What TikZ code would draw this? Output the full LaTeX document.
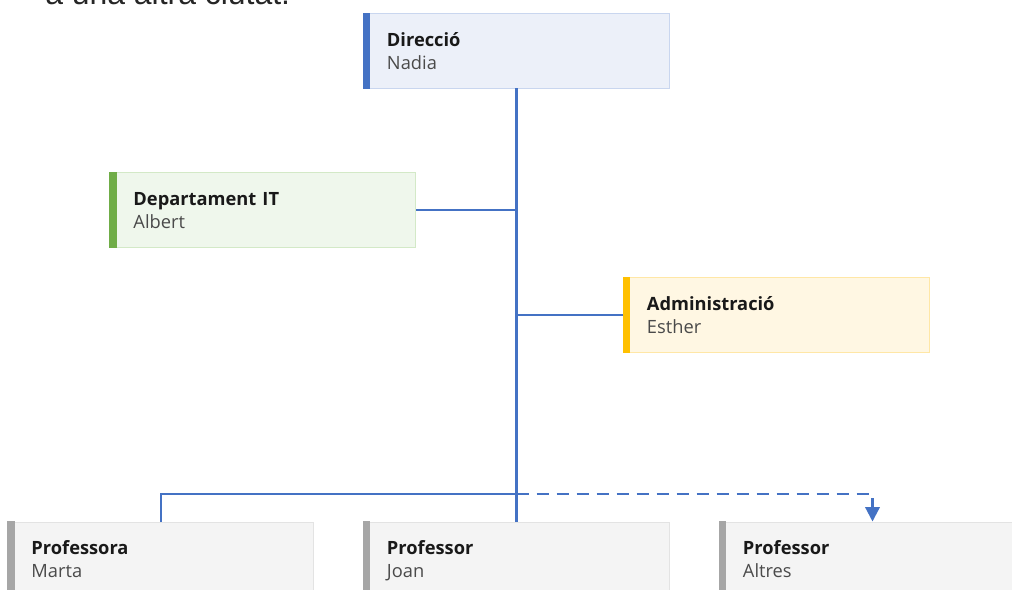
\documentclass[tikz,border=0pt]{standalone}
\usepackage{xcolor}
\usepackage{fontspec}
\setmainfont{Open Sans}
\newfontfamily\topfont{Liberation Sans}
\usetikzlibrary{positioning, calc, arrows.meta}

\definecolor{linkblue}{HTML}{4472C4}
\definecolor{dirfill}{HTML}{ECF0F9}
\definecolor{dirborder}{HTML}{C9D6EF}
\definecolor{itfill}{HTML}{EFF7EC}
\definecolor{itborder}{HTML}{D3E9C7}
\definecolor{itaccent}{HTML}{70AD47}
\definecolor{admfill}{HTML}{FFF7E3}
\definecolor{admborder}{HTML}{FFE7A6}
\definecolor{admaccent}{HTML}{FFC000}
\definecolor{profill}{HTML}{F4F4F4}
\definecolor{proborder}{HTML}{E3E3E3}
\definecolor{proaccent}{HTML}{A6A6A6}
\definecolor{namegray}{HTML}{4A4A4A}
\definecolor{toptext}{HTML}{262626}

\newcommand{\orgtext}[2]{\rule{0pt}{15pt}\textbf{#1}\\\strut\textcolor{namegray}{#2}\strut}

\begin{document}
\begin{tikzpicture}[x=0.025cm, y=-0.025cm]
			\tikzstyle{orgbox}=[rectangle, line width=0.7pt, minimum width=7.625cm, minimum height=1.85cm,
				inner xsep=0.575cm, inner ysep=0pt, text width=6.475cm, align=left, text=black!90,
				font=\fontsize{13}{16.4}\selectfont]
			\tikzstyle{link}=[draw=linkblue, line width=1.6pt]
			
			\useasboundingbox (0,0) rectangle (1012,590);
			\clip (0,0) rectangle (1012,590);
			
			\node (note) at (45,5) [anchor=base west, text=toptext, font=\topfont\fontsize{22.7}{27}\selectfont, inner sep=0pt] {a una altra ciutat.};
			
			\node (dir) at (516.5,51) [orgbox, fill=dirfill, draw=dirborder] {\orgtext{Direcció}{Nadia}};
			\node (it) at (263,210) [orgbox, fill=itfill, draw=itborder] {\orgtext{Departament IT}{Albert}};
			\node (adm) at (776.5,315) [orgbox, fill=admfill, draw=admborder] {\orgtext{Administració}{Esther}};
			
			\node (marta) at (161,559) [orgbox, fill=profill, draw=proborder] {\orgtext{Professora}{Marta}};
			\node (joan) at (516.5,559) [orgbox, fill=profill, draw=proborder] {\orgtext{Professor}{Joan}};
			\node (altres) at (872.5,559) [orgbox, fill=profill, draw=proborder] {\orgtext{Professor}{Altres}};
			
			% colour strips on the left side
			\foreach \n/\c in {dir/linkblue, it/itaccent, adm/admaccent, marta/proaccent, joan/proaccent, altres/proaccent}
				\fill [\c] ([xshift=-0.35pt, yshift=0.35pt]\n.north west) rectangle ([xshift=0.175cm, yshift=-0.35pt]\n.south west);
			
			\coordinate (bus) at (516.5,494);
			
			\draw [link] (dir.south) -- (joan.north);
			\draw [link] (it.east) -- (it.east -| dir.south);
			\draw [link] (adm.west) -- (adm.west -| dir.south);
			\draw [link] (bus) -| (marta.north);
			\draw [link, dash pattern=on 0.3cm off 0.2cm, -{Triangle[width=0.36cm, length=0.36cm]}] (bus) -| (altres.north);
			\end{tikzpicture}
\end{document}
